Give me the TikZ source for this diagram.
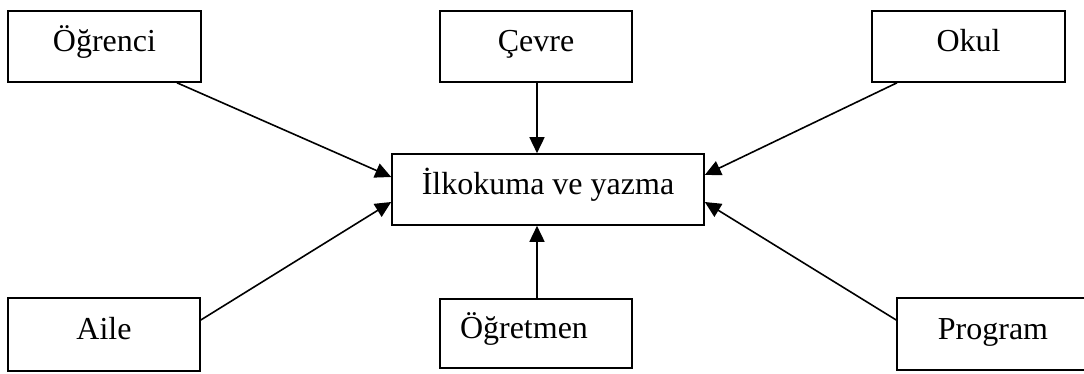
\documentclass[tikz,border=0pt]{standalone}
\usepackage{fontspec}
\setmainfont{Liberation Serif}
\usetikzlibrary{arrows.meta}
\begin{document}
\begin{tikzpicture}[x=1pt,y=-1pt,
  box/.style={draw=black,line width=1.6pt,inner sep=0pt,minimum height=71pt,
    text height=22pt,text depth=12pt,font=\fontsize{32}{38}\selectfont},
  conn/.style={line width=1.6pt,-{Triangle[length=16pt,width=15pt]}}]
\useasboundingbox (0,0) rectangle (1084,374);
\node[box,minimum width=193pt] (ogr) at (104.5,46.5) {Öğrenci};
\node[box,minimum width=192pt] (cev) at (536,46.5) {Çevre};
\node[box,minimum width=193pt] (okul) at (968.5,46.5) {Okul};
\node[box,minimum width=312pt] (ilk) at (548,189.5) {İlkokuma ve yazma};
\node[box,minimum width=192pt,minimum height=73pt] (aile) at (104,334.5) {Aile};
\node[box,minimum width=192pt,minimum height=69pt] (ogt) at (536,333.5) {Öğretmen\hspace*{24pt}};
\node[box,minimum width=192pt,minimum height=72pt] (prog) at (993,334) {Program};
\draw[conn] ([xshift=72.5pt]ogr.south) -- ([yshift=12.5pt]ilk.west);
\draw[conn] ([xshift=1pt]cev.south) -- ([xshift=-11pt]ilk.north);
\draw[conn] ([xshift=-71.5pt]okul.south) -- ([yshift=14.5pt]ilk.east);
\draw[conn] ([yshift=14.5pt]aile.east) -- ([yshift=-12.5pt]ilk.west);
\draw[conn] ([xshift=1pt]ogt.north) -- ([xshift=-11pt]ilk.south);
\draw[conn] ([yshift=14pt]prog.west) -- ([yshift=-12.5pt]ilk.east);
\end{tikzpicture}
\end{document}
